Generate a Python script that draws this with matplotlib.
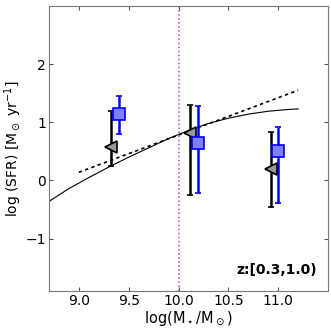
import numpy as np
import matplotlib
matplotlib.use("Agg")
import matplotlib.pyplot as plt

# binned points (black triangles)
tri_x = [9.32, 10.12, 10.93]
tri_y = [0.58, 0.82, 0.20]
tri_lo = [0.25, -0.25, -0.45]
tri_hi = [1.19, 1.30, 0.83]

# binned points (blue squares)
sq_x = [9.40, 10.20, 11.00]
sq_y = [1.14, 0.65, 0.50]
sq_lo = [0.80, -0.22, -0.38]
sq_hi = [1.46, 1.28, 0.92]

# main-sequence curve (solid)
ms_x = [8.7, 8.9, 9.1, 9.3, 9.5, 9.7, 9.9, 10.1, 10.3, 10.5, 10.7, 10.9, 11.1, 11.2]
ms_y = [-0.36, -0.14, 0.05, 0.23, 0.40, 0.56, 0.72, 0.86, 0.98, 1.07, 1.14, 1.19, 1.22, 1.23]

# linear relation (dotted)
lin_x = [9.0, 11.2]
lin_y = [0.14, 1.55]

mass_cut = 10.0

fig = plt.figure(figsize=(3.31, 3.31), dpi=100)
ax = fig.add_axes([0.148, 0.121, 0.843, 0.861])

ax.axvline(mass_cut, color="#b848b8", linestyle=":", linewidth=1.1)
ax.plot(ms_x, ms_y, color="black", linewidth=0.8)
ax.plot(lin_x, lin_y, color="black", linestyle=(0, (2, 2)), linewidth=1.2)

tri_err = [np.subtract(tri_y, tri_lo), np.subtract(tri_hi, tri_y)]
ax.errorbar(tri_x, tri_y, yerr=tri_err, fmt="<", color="black", mfc="#999999",
            mec="black", ms=9, elinewidth=1.8, capsize=2.5, capthick=1.5, mew=1.2)

sq_err = [np.subtract(sq_y, sq_lo), np.subtract(sq_hi, sq_y)]
ax.errorbar(sq_x, sq_y, yerr=sq_err, fmt="s", color="blue", mfc="#8080ff",
            mec="blue", ms=8.5, elinewidth=1.8, capsize=2.5, capthick=1.5, mew=1.2)

ax.set_xlim(8.7, 11.5)
ax.set_ylim(-1.9, 3.0)
ax.set_xticks([9.0, 9.5, 10.0, 10.5, 11.0])
ax.set_yticks([-1, 0, 1, 2])
ax.set_yticklabels(["\u22121", "0", "1", "2"])
ax.tick_params(direction="in", top=True, right=True, labelsize=10, length=3,
               pad=2, color="#555555")
for s in ax.spines.values():
    s.set_color("#777777")

ax.set_xlabel(r"log(M$_\star$/M$_\odot$)", fontsize=10.5, labelpad=1)
ax.set_ylabel(r"log (SFR) [M$_\odot$ yr$^{-1}$]", fontsize=10, labelpad=1)
ax.text(0.96, 0.05, "z:[0.3,1.0)", transform=ax.transAxes, ha="right", va="bottom",
        fontsize=10, fontweight="bold")

fig.savefig("out.png", dpi=100)
